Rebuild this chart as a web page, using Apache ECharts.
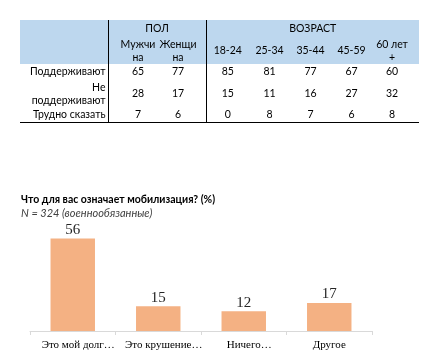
<!DOCTYPE html>
<html>
<head>
<meta charset="utf-8">
<script src="https://cdn.jsdelivr.net/npm/echarts@6/dist/echarts.min.js"></script>
<style>
html,body{margin:0;padding:0;background:#fff;width:441px;height:360px;overflow:hidden;}
#tbl{position:absolute;left:20px;top:20px;width:399px;border-collapse:collapse;font-family:Lato,"Noto Sans",sans-serif;font-size:10.5px;color:#000;table-layout:fixed;}
#tbl td{padding:0;text-align:center;vertical-align:middle;line-height:13px;white-space:nowrap;overflow:visible;}
#tbl .hd{background:#bdd7ee;}
#tbl .bl{border-left:1px solid #000;}
#tbl .lab{text-align:right;padding-right:2px;}
#tbl tr.last td{border-bottom:1px solid #000;}
#chart{position:absolute;left:0;top:0;width:441px;height:360px;}
</style>
</head>
<body>
<div id="chart"></div>
<table id="tbl"></table>
<script>
// ---- table data ----
var groupHeaders = ["ПОЛ", "ВОЗРАСТ"];
var sexCols = ["Мужчи<br>на", "Женщи<br>на"];
var ageCols = ["18-24", "25-34", "35-44", "45-59", "60 лет<br>+"];
var rowLabels = ["Поддерживают", "Не<br>поддерживают", "Трудно сказать"];
var supportVals = [65, 77, 85, 81, 77, 67, 60];
var notSupportVals = [28, 17, 15, 11, 16, 27, 32];
var hardToSayVals = [7, 6, 0, 8, 7, 6, 8];

// ---- chart data ----
var chartTitle = "Что для вас означает мобилизация? (%)";
var chartSubtitle = "N = 324 (военнообязанные)";
var categories = ["Это мой долг…", "Это крушение…", "Ничего…", "Другое"];
var values = [56, 15, 12, 17];

// build table
(function(){
  // label | spacer | sex1 | sex2 | spacer | age1..age5 | spacer
  var colW = [88, 10, 40, 40, 8, 43, 41, 41, 41, 40, 7];
  var rowH = [17, 27, 15, 29, 14];
  var t = document.getElementById('tbl');
  var h = '<colgroup>';
  colW.forEach(function(w){ h += '<col style="width:' + w + 'px">'; });
  h += '</colgroup>';
  h += '<tr style="height:' + rowH[0] + 'px"><td class="hd" rowspan="2"></td>' +
       '<td class="hd bl" colspan="4">' + groupHeaders[0] + '</td>' +
       '<td class="hd bl" colspan="6">' + groupHeaders[1] + '</td></tr>';
  function dataRow(cls, sexVals, ageVals){
    var s = '<td class="' + cls + ' bl"></td>';
    sexVals.forEach(function(v){ s += '<td class="' + cls + '">' + v + '</td>'; });
    s += '<td class="' + cls + '"></td>';
    ageVals.forEach(function(v, i){ s += '<td class="' + cls + (i === 0 ? ' bl' : '') + '">' + v + '</td>'; });
    s += '<td class="' + cls + '"></td>';
    return s;
  }
  h += '<tr style="height:' + rowH[1] + 'px">' + dataRow('hd', sexCols, ageCols) + '</tr>';
  var rows = [supportVals, notSupportVals, hardToSayVals];
  rows.forEach(function(vals, r){
    h += '<tr style="height:' + rowH[r + 2] + 'px"' + (r === rows.length - 1 ? ' class="last"' : '') + '>';
    h += '<td class="lab">' + rowLabels[r] + '</td>';
    h += dataRow('bd', vals.slice(0, 2), vals.slice(2));
    h += '</tr>';
  });
  t.innerHTML = h;
})();

var chart = echarts.init(document.getElementById('chart'), null, {renderer: 'canvas'});
chart.setOption({
  animation: false,
  title: {
    text: chartTitle,
    subtext: chartSubtitle,
    left: 21,
    top: 194,
    padding: 0,
    itemGap: 3,
    textStyle: {fontFamily: 'Lato, "Noto Sans", sans-serif', fontSize: 10.5, fontWeight: 'bold', color: '#000'},
    subtextStyle: {fontFamily: 'Lato, "Noto Sans", sans-serif', fontSize: 11, fontStyle: 'italic', color: '#404040'}
  },
  grid: {left: 30, right: 69, top: 232, bottom: 29},
  xAxis: {
    type: 'category',
    data: categories,
    axisLine: {lineStyle: {color: '#d9d9d9'}},
    axisTick: {show: true, length: 4, lineStyle: {color: '#d9d9d9'}},
    axisLabel: {
      fontFamily: '"Liberation Serif", "DejaVu Serif", serif', fontSize: 11, color: '#000', margin: 9, interval: 0,
      formatter: function(v){ return v.charAt(v.length - 1) === '…' ? '{e|' + v + '}' : v; },
      rich: {e: {fontFamily: '"Liberation Serif", "DejaVu Serif", serif', fontSize: 11, color: '#000', padding: [0, 0, 0, 11]}}
    }
  },
  yAxis: {type: 'value', min: 0, max: 60, show: false, splitLine: {show: false}},
  series: [{
    type: 'bar',
    data: values,
    barWidth: '52%',
    itemStyle: {color: '#f4b183'},
    label: {show: true, position: 'top', distance: 1, fontFamily: '"Liberation Serif", "DejaVu Serif", serif', fontSize: 15, color: '#262626'}
  }]
});
</script>
</body>
</html>
